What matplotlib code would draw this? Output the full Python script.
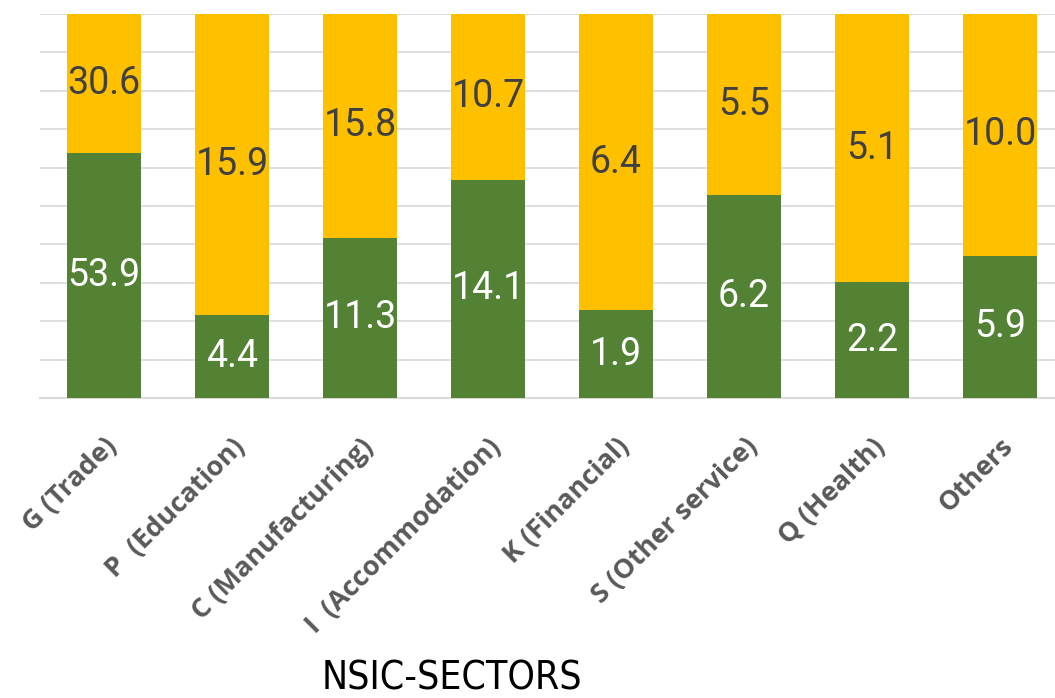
import matplotlib
matplotlib.use("Agg")
import matplotlib.pyplot as plt
import numpy as np

categories = ["G (Trade)", "P  (Education)", "C (Manufacturing)", "I  (Accommodation)",
              "K (Financial)", "S (Other service)", "Q (Health)", "Others"]
green_vals = [53.9, 4.4, 11.3, 14.1, 1.9, 6.2, 2.2, 5.9]
yellow_vals = [30.6, 15.9, 15.8, 10.7, 6.4, 5.5, 5.1, 10.0]

GREEN = "#548235"
YELLOW = "#FFC000"

fig = plt.figure(figsize=(10.55, 6.98), dpi=100)
ax = fig.add_axes([40/1055, (698-398)/698, 1 - 40/1055, (398-14)/698])

g = np.array(green_vals)
yv = np.array(yellow_vals)
tot = g + yv
gp = g / tot * 100
yp = yv / tot * 100
x = np.arange(len(categories))
w = 0.58

ax.bar(x, gp, w, color=GREEN, zorder=3)
ax.bar(x, yp, w, bottom=gp, color=YELLOW, zorder=3)

for i in range(len(x)):
    ax.text(x[i], gp[i]/2, f"{green_vals[i]:.1f}", ha="center", va="center",
            color="white", fontsize=27, family=["Roboto", "DejaVu Sans"], zorder=4)
    ax.text(x[i], gp[i] + yp[i]/2, f"{yellow_vals[i]:.1f}", ha="center", va="center",
            color="#404040", fontsize=27, family=["Roboto", "DejaVu Sans"], zorder=4)

ax.set_xlim(-0.5, 7.5 - 9/128)
ax.set_ylim(0, 100)
ax.set_yticks(np.arange(0, 101, 10))
ax.yaxis.grid(True, color="#D9D9D9", linewidth=1.2, zorder=0)
ax.set_axisbelow(True)
ax.tick_params(axis="y", left=False, labelleft=False)
ax.tick_params(axis="x", bottom=False, pad=22)
for s in ["top", "right", "left"]:
    ax.spines[s].set_visible(False)
ax.spines["bottom"].set_color("#D9D9D9")
ax.spines["bottom"].set_linewidth(1.5)

ax.set_xticks(x)
ax.set_xticklabels(categories, rotation=45, ha="right", rotation_mode="anchor",
                   fontsize=19.5, fontweight="bold", color="#595959",
                   family=["Open Sans", "DejaVu Sans"])

fig.text(452/1055, 1 - 679/698, "NSIC-SECTORS", ha="center", va="center",
         fontsize=28, color="black", family=["DejaVu Sans"], fontstretch="condensed")

fig.savefig("out.png", dpi=100)
